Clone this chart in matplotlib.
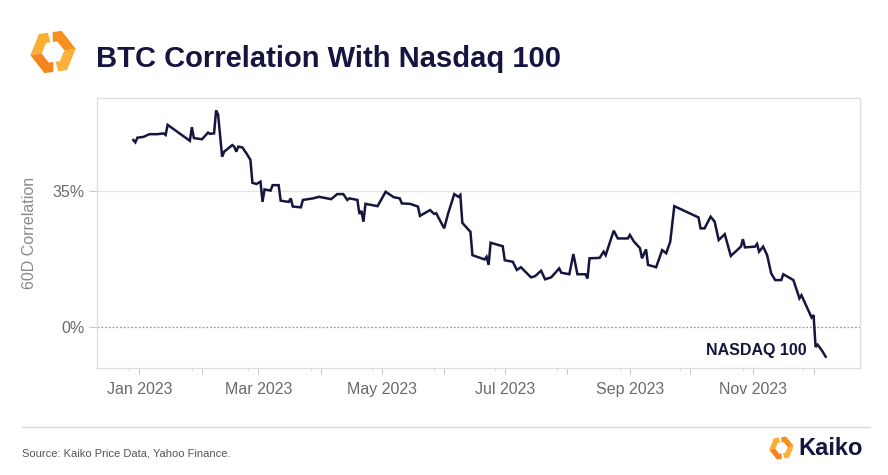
import matplotlib
matplotlib.use("Agg")

import matplotlib.pyplot as plt
import numpy as np
import pandas as pd
from matplotlib.patches import Polygon
from matplotlib.lines import Line2D

plt.rcParams["font.family"] = ["Liberation Sans", "DejaVu Sans"]

NAVY = "#15153f"
GREY_TXT = "#6a6a6a"

# 60-day rolling correlation, BTC vs Nasdaq 100 (%)
dates = [
    "2022-12-29", "2022-12-30", "2022-12-31", "2023-01-03", "2023-01-06", "2023-01-10",
    "2023-01-13", "2023-01-14", "2023-01-15", "2023-01-25", "2023-01-26", "2023-01-27",
    "2023-01-28", "2023-02-01", "2023-02-04", "2023-02-05", "2023-02-07", "2023-02-08",
    "2023-02-09", "2023-02-11", "2023-02-12", "2023-02-16", "2023-02-17", "2023-02-18",
    "2023-02-19", "2023-02-21", "2023-02-23", "2023-02-25", "2023-02-26", "2023-02-28",
    "2023-03-02", "2023-03-03", "2023-03-04", "2023-03-07", "2023-03-08", "2023-03-11",
    "2023-03-12", "2023-03-16", "2023-03-17", "2023-03-18", "2023-03-22", "2023-03-23",
    "2023-03-28", "2023-03-31", "2023-04-06", "2023-04-09", "2023-04-12", "2023-04-14",
    "2023-04-15", "2023-04-19", "2023-04-20", "2023-04-21", "2023-04-22", "2023-04-23",
    "2023-04-29", "2023-05-03", "2023-05-07", "2023-05-10", "2023-05-11", "2023-05-15",
    "2023-05-19", "2023-05-20", "2023-05-25", "2023-05-27", "2023-05-28", "2023-06-01",
    "2023-06-03", "2023-06-06", "2023-06-08", "2023-06-09", "2023-06-10", "2023-06-14",
    "2023-06-15", "2023-06-21", "2023-06-22", "2023-06-23", "2023-06-24", "2023-06-30",
    "2023-07-01", "2023-07-05", "2023-07-07", "2023-07-09", "2023-07-14", "2023-07-16",
    "2023-07-19", "2023-07-21", "2023-07-24", "2023-07-28", "2023-07-29", "2023-08-02",
    "2023-08-04", "2023-08-06", "2023-08-10", "2023-08-11", "2023-08-12", "2023-08-17",
    "2023-08-19", "2023-08-20", "2023-08-24", "2023-08-26", "2023-08-31", "2023-09-01",
    "2023-09-03", "2023-09-06", "2023-09-07", "2023-09-09", "2023-09-10", "2023-09-14",
    "2023-09-17", "2023-09-19", "2023-09-21", "2023-09-23", "2023-10-05", "2023-10-06",
    "2023-10-08", "2023-10-11", "2023-10-13", "2023-10-15", "2023-10-18", "2023-10-21",
    "2023-10-26", "2023-10-27", "2023-10-28", "2023-11-02", "2023-11-03", "2023-11-04",
    "2023-11-06", "2023-11-08", "2023-11-10", "2023-11-12", "2023-11-15", "2023-11-16",
    "2023-11-21", "2023-11-24", "2023-11-25", "2023-11-30", "2023-12-01", "2023-12-02",
    "2023-12-03", "2023-12-05", "2023-12-07",
]
corr = [
    48.1, 47.5, 48.7, 48.9, 49.6, 49.6,
    49.8, 49.4, 52.0, 48.3, 47.9, 51.4,
    48.6, 48.3, 50.0, 49.7, 49.8, 55.7,
    54.6, 43.8, 45.1, 46.8, 46.4, 45.1,
    46.4, 46.2, 44.7, 43.0, 37.1, 36.8,
    37.4, 32.2, 35.4, 35.1, 36.5, 36.5,
    32.5, 32.2, 33.1, 31.0, 30.8, 32.7,
    33.1, 33.5, 32.9, 34.2, 34.2, 32.7,
    33.1, 32.7, 29.1, 29.9, 27.1, 31.7,
    31.1, 34.8, 33.4, 33.1, 31.8, 31.7,
    31.0, 28.6, 30.1, 29.1, 29.3, 25.4,
    29.3, 34.2, 33.5, 34.0, 26.8, 24.5,
    18.5, 17.4, 18.1, 16.0, 21.7, 20.8,
    17.2, 16.8, 14.7, 15.4, 12.8, 13.1,
    14.5, 12.3, 12.8, 15.1, 14.0, 13.6,
    18.8, 13.6, 13.6, 12.5, 17.7, 17.8,
    19.4, 18.5, 24.8, 22.8, 22.8, 23.7,
    22.0, 20.3, 17.7, 20.0, 16.0, 15.4,
    19.8, 19.0, 22.0, 31.1, 28.2, 25.4,
    25.4, 28.4, 27.1, 22.4, 23.9, 18.3,
    20.7, 22.6, 20.5, 20.7, 21.4, 19.4,
    20.7, 18.5, 13.8, 12.1, 12.1, 13.6,
    12.1, 7.4, 8.2, 2.5, 3.1, -5.1,
    -4.5, -5.9, -7.6,
]
series_label = "NASDAQ 100"

ytick_vals = [0, 35]
ytick_labels = ["0%", "35%"]
month_ticks = pd.date_range("2023-01-01", "2023-12-01", freq="MS")
month_labels = [d.strftime("%b %Y") if d.month % 2 == 1 else "" for d in month_ticks]

title = "BTC Correlation With Nasdaq 100"
ylabel = "60D Correlation"
source = "Source: Kaiko Price Data, Yahoo Finance."


def hex_piece(a0, a1, r_out=1.0, r_in=0.5, rot=8):
    """Outline polygon of a hexagon ring between angles a0..a1 (deg)."""
    angs = [a0] + [a for a in range(-360, 720, 60) if a0 < a < a1] + [a1]

    def pt(a, r):
        k = ((a % 60) + 60) % 60
        rr = r * np.cos(np.radians(30)) / np.cos(np.radians(k - 30))
        t = np.radians(a + rot)
        return rr * np.cos(t), rr * np.sin(t)

    outer = [pt(a, r_out) for a in angs]
    inner = [pt(a, r_in) for a in angs[::-1]]
    return outer + inner


def draw_logo(fig, rect):
    lax = fig.add_axes(rect)
    lax.set_xlim(-1.05, 1.05)
    lax.set_ylim(-1.05, 1.05)
    lax.set_aspect("equal")
    lax.axis("off")
    pieces = [
        (97, 180, "#fbae34"),
        (180, 263, "#f5841f"),
        (0, 83, "#f7911e"),
        (-83, 0, "#fbb03b"),
    ]
    for a0, a1, c in pieces:
        lax.add_patch(Polygon(hex_piece(a0, a1), closed=True, fc=c, ec="none"))


fig = plt.figure(figsize=(8.88, 4.75), dpi=100)
W, H = 888, 475

ax = fig.add_axes([97 / W, 1 - 368 / H, (860 - 97) / W, (368 - 98) / H])
x = pd.to_datetime(dates)
ax.plot(x, corr, color=NAVY, lw=1.8, solid_joinstyle="miter")

ax.set_xlim(pd.Timestamp("2022-12-11"), pd.Timestamp("2023-12-24"))
ax.set_ylim(-10.5, 58.9)

ax.axhline(35, color="#e3e3e3", lw=0.9, zorder=0)
ax.axhline(0, color="#9a9a9a", lw=0.9, ls=(0, (1.5, 1.5)), zorder=0)

for s in ax.spines.values():
    s.set_color("#dedede")
    s.set_linewidth(0.9)

ax.set_xticks(month_ticks)
ax.set_xticklabels(month_labels)
ax.set_xticks(month_ticks - pd.Timedelta(days=5), minor=True)
ax.set_yticks(ytick_vals)
ax.set_yticklabels(ytick_labels)
ax.tick_params(axis="x", length=4, width=0.8, color="#c8c8c8",
               labelsize=11.5, labelcolor=GREY_TXT, pad=6)
ax.tick_params(axis="x", which="minor", length=2, width=0.7, color="#d6d6d6")
ax.tick_params(axis="y", length=6, width=0.8, color="#c8c8c8",
               labelsize=11.5, labelcolor=GREY_TXT, pad=3)
ax.set_ylabel(ylabel, fontsize=11.5, color="#8a8a8a")
ax.yaxis.set_label_coords(-0.079, 0.5)

ax.annotate(series_label, xy=(x[-1], corr[-1]), xytext=(-19, 6),
            textcoords="offset pixels", ha="right", va="center",
            fontsize=11.5, fontweight="bold", color=NAVY)

# header
fig.text(96 / W, 1 - 67 / H, title, fontsize=21, fontweight="bold",
         color=NAVY, ha="left", va="baseline")
draw_logo(fig, [28 / W, 1 - 76 / H, 50 / W, 48 / H])

# footer
fig.add_artist(Line2D([22 / W, 870 / W], [1 - 427 / H] * 2,
                      transform=fig.transFigure, color="#d8d8d8", lw=1))
fig.text(22 / W, 1 - 453 / H, source, fontsize=8, color="#555555",
         ha="left", va="center")
draw_logo(fig, [768 / W, 1 - 461 / H, 27 / W, 26 / H])
fig.text(798 / W, 1 - 455 / H, "Kaiko", fontsize=17, fontweight="bold",
         color=NAVY, ha="left", va="baseline")

fig.savefig("out.png", dpi=100)
